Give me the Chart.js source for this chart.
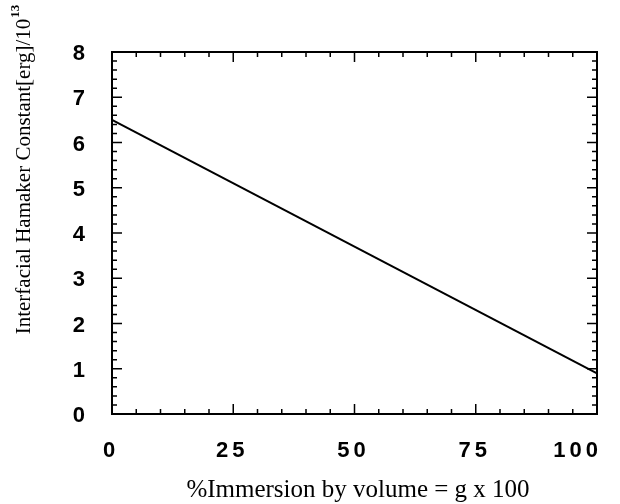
<!DOCTYPE html>
<html>
<head>
<meta charset="utf-8">
<script src="https://cdn.jsdelivr.net/npm/chart.js@4/dist/chart.umd.min.js"></script>
<style>
  html, body { margin: 0; padding: 0; background: #fff; }
  #wrap { width: 620px; height: 504px; }
</style>
</head>
<body>
<div id="wrap"><canvas id="hamaker"></canvas></div>
<script>
// data
var immersion = [0, 100];          // %Immersion by volume
var hamaker = [6.5, 0.9];          // Hamaker constant / 1e-13 erg
var xTickValues = [0, 25, 50, 75, 100];
var yTickValues = [0, 1, 2, 3, 4, 5, 6, 7, 8];

var yTitle = 'Interfacial Hamaker Constant[erg]/10';
var yTitleSup = '13';
var xTitle = '%Immersion by volume = g x 100';

var serif = '"Liberation Serif", "Times New Roman", serif';
var sans = '"Liberation Sans", Arial, sans-serif';

// frame, inward ticks on all four sides, x tick labels and axis titles
var frameTicks = {
    id: 'frameTicks',
    afterDraw: function (chart) {
        var ctx = chart.ctx;
        var a = chart.chartArea;
        var xs = chart.scales.x, ys = chart.scales.y;
        ctx.save();
        ctx.strokeStyle = '#000';
        ctx.lineWidth = 2;
        ctx.strokeRect(a.left, a.top, a.right - a.left, a.bottom - a.top);

        ctx.lineWidth = 1.5;
        ctx.beginPath();
        for (var v = 0; v <= 100; v += 5) {
            var px = xs.getPixelForValue(v);
            var len = (v % 25 === 0) ? 10 : 5;
            ctx.moveTo(px, a.bottom); ctx.lineTo(px, a.bottom - len);
            ctx.moveTo(px, a.top); ctx.lineTo(px, a.top + len);
        }
        for (var i = 0; i <= 40; i++) {
            var py = ys.getPixelForValue(i * 0.2);
            var l = (i % 5 === 0) ? 10 : 5;
            ctx.moveTo(a.left, py); ctx.lineTo(a.left + l, py);
            ctx.moveTo(a.right, py); ctx.lineTo(a.right - l, py);
        }
        ctx.stroke();

        ctx.fillStyle = '#000';
        ctx.textBaseline = 'alphabetic';

        // x tick labels, spaced out; the last one sits inside the frame edge
        ctx.font = 'bold 22px ' + sans;
        ctx.letterSpacing = '4px';
        xTickValues.forEach(function (v, k) {
            var x = xs.getPixelForValue(v);
            if (k === xTickValues.length - 1) {
                ctx.textAlign = 'right';
                ctx.fillText(String(v), x + 5, 457);
            } else {
                ctx.textAlign = 'center';
                ctx.fillText(String(v), x - 1, 457);
            }
        });
        ctx.letterSpacing = '0px';

        // x axis title
        ctx.font = '25px ' + serif;
        ctx.textAlign = 'center';
        ctx.fillText(xTitle, 358, 497);

        // y axis title, rotated
        ctx.translate(30, 170);
        ctx.rotate(-Math.PI / 2);
        ctx.font = '21px ' + serif;
        var w = ctx.measureText(yTitle).width;
        ctx.font = 'bold 13px ' + serif;
        var ws = ctx.measureText(yTitleSup).width;
        var start = -(w + ws) / 2;
        ctx.textAlign = 'left';
        ctx.font = '21px ' + serif;
        ctx.fillText(yTitle, start, 0);
        ctx.font = 'bold 13px ' + serif;
        ctx.fillText(yTitleSup, start + w + 1, -11);
        ctx.restore();
    }
};

new Chart(document.getElementById('hamaker').getContext('2d'), {
    type: 'scatter',
    data: {
        datasets: [{
            label: 'Hamaker',
            data: immersion.map(function (x, i) { return { x: x, y: hamaker[i] }; }),
            showLine: true,
            borderColor: '#000',
            borderWidth: 2,
            pointRadius: 0,
            fill: false
        }]
    },
    options: {
        responsive: true,
        maintainAspectRatio: false,
        animation: false,
        layout: { padding: { left: 0, top: 52, right: 23, bottom: 0 } },
        plugins: {
            legend: { display: false },
            tooltip: { enabled: false }
        },
        scales: {
            x: {
                type: 'linear',
                min: 0,
                max: 100,
                afterBuildTicks: function (s) { s.ticks = xTickValues.map(function (v) { return { value: v }; }); },
                afterFit: function (s) { s.height = 90; s.paddingLeft = 0; s.paddingRight = 0; },
                grid: { display: false, drawTicks: false },
                border: { display: false },
                ticks: { display: false }
            },
            y: {
                min: 0,
                max: 8,
                afterBuildTicks: function (s) { s.ticks = yTickValues.map(function (v) { return { value: v }; }); },
                afterFit: function (s) { s.width = 112; s.paddingTop = 0; s.paddingBottom = 0; },
                grid: { display: false, drawTicks: false },
                border: { display: false },
                ticks: {
                    color: '#000',
                    padding: 27,
                    labelOffset: 2,
                    font: { family: sans, size: 22, weight: 'bold' }
                }
            }
        }
    },
    plugins: [frameTicks]
});
</script>
</body>
</html>
